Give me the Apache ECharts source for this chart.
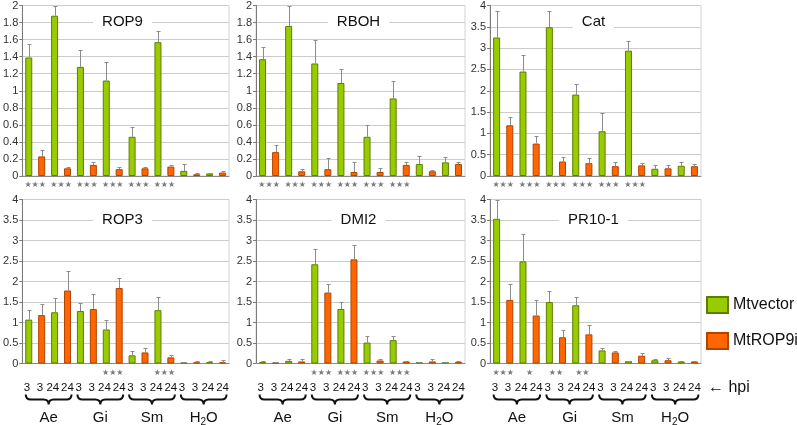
<!DOCTYPE html>
<html>
<head>
<meta charset="utf-8">
<script src="https://cdn.jsdelivr.net/npm/echarts@6/dist/echarts.min.js"></script>
<style>
html, body { margin: 0; padding: 0; background: #fff; }
#canvas { width: 797px; height: 425px; }
</style>
</head>
<body>
<div id="canvas"></div>
<script>
// hpi label under every bar, treatments under each brace
var hpi = ['3', '3', '24', '24', '3', '3', '24', '24', '3', '3', '24', '24', '3', '3', '24', '24'];
var groups = ['Ae', 'Gi', 'Sm', 'H2O'];
var seriesNames = ['Mtvector', 'MtROP9i'];

// one value per treatment/time: Ae3, Ae24, Gi3, Gi24, Sm3, Sm24, H2O3, H2O24
var rop9Vec = [1.39, 1.88, 1.28, 1.12, 0.46, 1.57, 0.06, 0.03];
var rop9VecErr = [0.16, 0.12, 0.20, 0.22, 0.12, 0.13, 0.08, 0.01];
var rop9Rnai = [0.23, 0.09, 0.13, 0.08, 0.09, 0.11, 0.02, 0.04];
var rop9RnaiErr = [0.07, 0.02, 0.03, 0.02, 0.02, 0.02, 0.01, 0.02];
var rop9Stars = ['***', '***', '***', '***', '***', '***', '', ''];

var rbohVec = [1.37, 1.76, 1.32, 1.09, 0.46, 0.91, 0.14, 0.16];
var rbohVecErr = [0.14, 0.23, 0.27, 0.17, 0.14, 0.20, 0.09, 0.06];
var rbohRnai = [0.28, 0.055, 0.08, 0.047, 0.047, 0.13, 0.055, 0.14];
var rbohRnaiErr = [0.08, 0.025, 0.13, 0.12, 0.045, 0.04, 0.011, 0.02];
var rbohStars = ['***', '***', '***', '***', '***', '***', '', ''];

var catVec = [3.25, 2.45, 3.49, 1.91, 1.05, 2.94, 0.17, 0.24];
var catVecErr = [0.61, 0.38, 0.37, 0.25, 0.43, 0.22, 0.09, 0.10];
var catRnai = [1.19, 0.76, 0.34, 0.30, 0.23, 0.25, 0.18, 0.23];
var catRnaiErr = [0.19, 0.17, 0.10, 0.12, 0.09, 0.05, 0.07, 0.04];
var catStars = ['***', '***', '***', '***', '***', '***', '', ''];

var rop3Vec = [1.07, 1.25, 1.28, 0.83, 0.20, 1.30, 0.025, 0.03];
var rop3VecErr = [0.23, 0.35, 0.19, 0.24, 0.095, 0.33, 0.016, 0.02];
var rop3Rnai = [1.18, 1.78, 1.33, 1.84, 0.27, 0.15, 0.03, 0.03];
var rop3RnaiErr = [0.28, 0.47, 0.37, 0.24, 0.10, 0.055, 0.02, 0.05];
var rop3Stars = ['', '', '', '***', '', '***', '', ''];

var dmi2Vec = [0.04, 0.065, 2.42, 1.33, 0.51, 0.57, 0.033, 0.033];
var dmi2VecErr = [0.017, 0.04, 0.38, 0.175, 0.15, 0.11, 0.007, 0.007];
var dmi2Rnai = [0.024, 0.05, 1.73, 2.54, 0.073, 0.05, 0.05, 0.04];
var dmi2RnaiErr = [0.006, 0.05, 0.20, 0.34, 0.033, 0.023, 0.05, 0.025];
var dmi2Stars = ['', '', '***', '***', '***', '***', '', ''];

var pr10Vec = [3.53, 2.49, 1.50, 1.42, 0.32, 0.057, 0.08, 0.049];
var pr10VecErr = [0.47, 0.66, 0.27, 0.19, 0.057, 0.016, 0.04, 0.008];
var pr10Rnai = [1.55, 1.17, 0.64, 0.71, 0.27, 0.19, 0.08, 0.049];
var pr10RnaiErr = [0.38, 0.38, 0.17, 0.24, 0.047, 0.063, 0.05, 0.024];
var pr10Stars = ['***', '*', '**', '**', '', '', '', ''];

var panels = [
    {name: 'ROP9', max: 2, step: 0.2, vec: rop9Vec, vecErr: rop9VecErr, rnai: rop9Rnai, rnaiErr: rop9RnaiErr, stars: rop9Stars},
    {name: 'RBOH', max: 2, step: 0.2, vec: rbohVec, vecErr: rbohVecErr, rnai: rbohRnai, rnaiErr: rbohRnaiErr, stars: rbohStars},
    {name: 'Cat', max: 4, step: 0.5, vec: catVec, vecErr: catVecErr, rnai: catRnai, rnaiErr: catRnaiErr, stars: catStars},
    {name: 'ROP3', max: 4, step: 0.5, vec: rop3Vec, vecErr: rop3VecErr, rnai: rop3Rnai, rnaiErr: rop3RnaiErr, stars: rop3Stars},
    {name: 'DMI2', max: 4, step: 0.5, vec: dmi2Vec, vecErr: dmi2VecErr, rnai: dmi2Rnai, rnaiErr: dmi2RnaiErr, stars: dmi2Stars},
    {name: 'PR10-1', max: 4, step: 0.5, vec: pr10Vec, vecErr: pr10VecErr, rnai: pr10Rnai, rnaiErr: pr10RnaiErr, stars: pr10Stars}
];

// layout
var cols = [{left: 20, width: 209}, {left: 256, width: 209}, {left: 490, width: 211}];
var rows = [{top: 5, height: 171, title: 17}, {top: 199.5, height: 164, title: 20.5}];
var FONT = 'Liberation Sans, Arial, sans-serif';
var GREEN = '#99cc00', GREEN_EDGE = '#5e7d00';
var ORANGE = '#ff6600', ORANGE_EDGE = '#b04400';

var errRender = function(params, api) {
    var c = api.value(0), v = api.value(1), e = api.value(2);
    var a = api.coord([c, v]), b = api.coord([c, v + e]);
    var x = Math.round(a[0]) + 0.5;
    var yt = Math.round(b[1]) + 0.5;
    var st = {stroke: '#8c8c8c', lineWidth: 1};
    return {type: 'group', children: [
        {type: 'line', shape: {x1: x, y1: a[1], x2: x, y2: yt}, style: st},
        {type: 'line', shape: {x1: x - 2, y1: yt, x2: x + 2, y2: yt}, style: st}
    ]};
}

var starRender = function(stars) {
    return function(params, api) {
        var s = stars[params.dataIndex];
        if (!s) return null;
        var i = api.value(0);
        var a = api.coord([i, 0]), b = api.coord([i + 1, 0]);
        return {type: 'text', x: (a[0] + b[0]) / 2, y: a[1] + 9,
            style: {text: s.replace(/\*/g, '\u2605'), fill: '#7a7a7a', fontSize: 8, fontFamily: 'DejaVu Sans',
                align: 'center', verticalAlign: 'middle'}};
    };
}

var braceRender = function(params, api) {
    var g = params.dataIndex;
    var a = api.coord([4 * g, 0]), b = api.coord([4 * g + 3, 0]);
    var xa = a[0] - 3, xb = b[0] + 4, xm = (xa + xb) / 2;
    var y0 = a[1] + 31, y1 = y0 + 5, y2 = y0 + 10, r = 5;
    var d = 'M' + xa + ' ' + y0 + ' Q' + xa + ' ' + y1 + ' ' + (xa + r) + ' ' + y1 +
        ' L' + (xm - r) + ' ' + y1 + ' Q' + xm + ' ' + y1 + ' ' + xm + ' ' + y2 +
        ' Q' + xm + ' ' + y1 + ' ' + (xm + r) + ' ' + y1 +
        ' L' + (xb - r) + ' ' + y1 + ' Q' + xb + ' ' + y1 + ' ' + xb + ' ' + y0;
    var label = groups[g].replace(/([A-Za-z]+)(\d)([A-Za-z]*)/, '{n|$1}{s|$2}{n|$3}');
    if (label.indexOf('{') == -1) label = '{n|' + label + '}';
    return {type: 'group', children: [
        {type: 'path', shape: {pathData: d}, style: {stroke: '#111', lineWidth: 2, fill: 'none'}},
        {type: 'text', x: xm, y: a[1] + 54, style: {text: label, align: 'center', verticalAlign: 'middle',
            rich: {n: {fontSize: 15, fontFamily: FONT, fill: '#111'},
                   s: {fontSize: 10, fontFamily: FONT, fill: '#111', padding: [9, 0, 0, 0]}}}}
    ]};
}

// the last "24" of each group sits a little right of the others
var hpiFormatter = function(v, i) {
    return (i % 4 == 3 ? '{r|' : '{c|') + v + '}';
}

var myChart = echarts.init(document.getElementById('canvas'));
var grids = [], xAxes = [], yAxes = [], series = [], graphics = [];

for (var p = 0; p < panels.length; p++) {
    var pn = panels[p];
    var col = cols[p % 3], row = rows[Math.floor(p / 3)];
    var bottom = p >= 3;
    grids.push({left: col.left, top: row.top, width: col.width, height: row.height,
        show: true, borderColor: '#d4d4d4', borderWidth: 1, containLabel: false});
    xAxes.push({type: 'category', gridIndex: p, data: hpi,
        axisLine: {lineStyle: {color: '#8a8a8a'}}, axisTick: {show: false},
        axisLabel: {show: bottom, interval: 0, hideOverlap: false, margin: 18, fontSize: 11,
            fontFamily: FONT, color: '#111', formatter: hpiFormatter,
            rich: {
                c: {fontSize: 11.5, fontFamily: FONT, color: '#111', padding: [0, 3.5, 0, 0]},
                r: {fontSize: 11.5, fontFamily: FONT, color: '#111'}
            }}});
    yAxes.push({type: 'value', gridIndex: p, min: 0, max: pn.max, interval: pn.step,
        axisLine: {show: true, lineStyle: {color: '#7a7a7a'}},
        axisTick: {show: true, length: 3, lineStyle: {color: '#7a7a7a'}},
        axisLabel: {fontSize: 11, fontFamily: FONT, color: '#333', margin: 4},
        splitLine: {lineStyle: {color: '#cccccc'}}});

    var vecData = [], rnaiData = [], errData = [], starData = [];
    for (var k = 0; k < pn.vec.length; k++) {
        vecData.push(pn.vec[k], '-');
        rnaiData.push('-', pn.rnai[k]);
        errData.push([2 * k, pn.vec[k], pn.vecErr[k]], [2 * k + 1, pn.rnai[k], pn.rnaiErr[k]]);
        starData.push([2 * k, 0]);
    }
    series.push({name: seriesNames[0], type: 'bar', xAxisIndex: p, yAxisIndex: p, data: vecData,
        barWidth: 7, barGap: '-100%', itemStyle: {color: GREEN, borderColor: GREEN_EDGE, borderWidth: 1}});
    series.push({name: seriesNames[1], type: 'bar', xAxisIndex: p, yAxisIndex: p, data: rnaiData,
        barWidth: 7, barGap: '-100%', itemStyle: {color: ORANGE, borderColor: ORANGE_EDGE, borderWidth: 1}});
    series.push({type: 'custom', xAxisIndex: p, yAxisIndex: p, data: errData, clip: true,
        renderItem: errRender, z: 3, silent: true});
    series.push({type: 'custom', xAxisIndex: p, yAxisIndex: p, data: starData,
        renderItem: starRender(pn.stars), z: 3, silent: true});
    if (bottom) {
        series.push({type: 'custom', xAxisIndex: p, yAxisIndex: p, data: [[0, 0], [4, 0], [8, 0], [12, 0]],
            renderItem: braceRender, z: 3, silent: true});
    }
    graphics.push({type: 'text', x: col.left + col.width / 2 - 2, y: row.top + row.title, z: 100,
        style: {text: pn.name, font: '15px ' + FONT, fill: '#111', align: 'center', verticalAlign: 'middle',
            backgroundColor: '#fff', padding: [2, 9]}});
}

graphics.push({type: 'text', x: 708, y: 388, z: 100,
    style: {text: '\u2190 hpi', font: '16px ' + FONT, fill: '#111', align: 'left', verticalAlign: 'middle'}});

var option = {
    animation: false,
    backgroundColor: '#fff',
    grid: grids,
    xAxis: xAxes,
    yAxis: yAxes,
    legend: {
        data: seriesNames,
        orient: 'vertical',
        left: 706,
        top: 296,
        icon: 'rect',
        itemWidth: 21,
        itemHeight: 16,
        itemGap: 18,
        padding: 0,
        textStyle: {fontSize: 16, fontFamily: FONT, color: '#111'}
    },
    graphic: graphics,
    series: series
};
myChart.setOption(option);
</script>
</body>
</html>
